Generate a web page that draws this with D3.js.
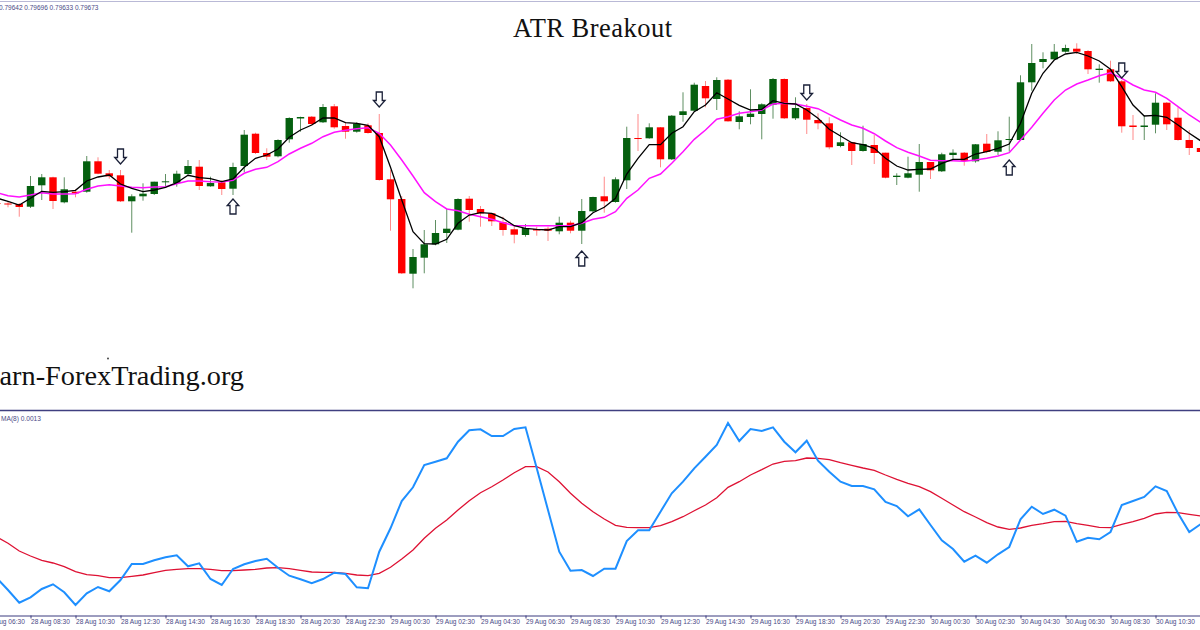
<!DOCTYPE html>
<html><head><meta charset="utf-8">
<script src="https://cdn.jsdelivr.net/npm/d3@7"></script>
<style>html,body{margin:0;padding:0;background:#fff;overflow:hidden}svg{display:block}</style>
</head><body><svg id="c" width="1200" height="630"></svg>
<script>
// Price-panel values in chart points, one entry per 30-minute bar
const opens=[207,206.5,206,203.3,224.7,232.7,207.7,218.3,218.3,248.7,236.7,234.7,208.7,213.7,216,227.7,227,236,243.3,223.7,227.7,221.3,244,276.3,257,253.7,270.7,291.5,293.3,287.7,303.7,284,278.3,284.7,277,230.7,211,136.3,152.3,165.7,177,180.3,211.3,201,196.7,187.7,180.7,175,181,181.3,178.7,187.3,179.3,198.7,213.7,208,229.7,272,271.7,282.7,250.7,295,299.3,324,311,330.3,288,293,296,305.3,331,291.7,302,290,286.7,264,267.7,259,265,257.3,233,232.3,235.3,248,238.7,255,257.3,248.7,266.3,258.3,270,270,327.7,348,350.7,358.3,361.3,359,340,340.7,328.7,284.5,283,285.3,307.3,292.3,270,262];
const highs=[209,208.3,207,234,236,233.3,232.7,220.7,254,252.7,240,240,215.7,226.7,228.3,236,239.3,250,250,233.3,230,247.3,280,277.3,261.7,270.7,292.7,293.3,294,306,306,287.7,287.7,286.7,296,240,214,161,180,190,201.7,211.7,214,204,196.7,193.3,183.3,186,183.3,183.3,193.3,189.3,211,213.3,233.3,232.7,283.3,296,286.7,283,295,317.7,327.3,329,332.7,331,298.7,320.7,306.7,332,331.7,312.7,306,296.7,292.7,277.7,268.3,284.3,275,257.3,236.7,253.3,266,248,257.3,260.7,258,266,276,278.7,293.3,334.7,366,357.7,366,365.3,366.7,360,345.7,349.3,330,295,295,316.7,308,302.7,280,270];
const lows=[204,202.7,193.3,202,210,201,206.7,212.7,217.3,235.7,231.3,208,177.3,209.3,215,223.3,223.3,235.3,220,223.3,215,215,237.7,256,250,252.7,267.3,278.3,284.7,287,281.3,271.3,277.3,276.3,229.3,179.3,136,121.7,136.7,164.7,167,179.7,188.3,183.3,184,174.3,166.7,173.3,174.3,169,175.7,176.7,166,198,197.3,207.3,221,259,271.3,242.7,250,288.3,298.3,302.7,300,288.3,280.7,285.7,270.7,291.3,291,290,276,280.7,260.7,262.7,245,258.3,246,231.7,225,231.7,218.3,231,238,250,244.3,247.3,256.7,255,258.3,269.3,319.3,341.7,350,357.3,356,336,327.3,328,277.3,270,270,276.7,280,269.3,255,245];
const closes=[206,205.5,203,224,232.7,209,220.7,216.7,248.7,236.3,233.7,208.7,213.7,216.3,228.3,228.7,236.3,244,224,227,221,243,275.3,257,253.3,270,292,293,286,303,282.7,278.3,286.3,277,230,210.7,136.7,153,165.7,177,181.3,211,200,196.7,188.7,180,175.3,182,179.5,179.3,187.3,179.3,199,213,208.7,230.7,272,271,282.7,250.7,294.3,298.7,325.3,311.7,330,288.7,293.7,296.3,305.7,331,291.7,302,290.3,286.7,262.7,267.7,259,266,257,232.3,234.3,236.7,248,239.7,255.7,257.3,249,265.7,258,269.7,271,327.7,347,351,358.3,362,358.3,340.7,341.3,328.7,283.7,283,284.5,307.3,285.7,270,262,258];
const fastMA=[212,208.7,205,211.7,218.7,217.7,218.3,219.7,229,233,235,226,221.7,218.3,220,222.7,227.3,234.7,232.3,231.3,228.3,231,242.7,251.7,255,261,272.7,280,285,292,292,287.3,286.7,284.7,273.3,242.7,210,178.3,166.3,166,170.7,186.7,195,197.3,196.7,191.7,184.3,181.7,180.7,180,183.3,183.3,187.3,197.3,202.7,211.7,236,251.7,265.3,265.3,276.7,283.3,298.3,305,317.3,311,304.7,300,300.7,309.3,306.7,306,300,291.7,280.7,274,267.3,265.3,261.7,251.7,244,240,240.7,241,246.7,250.7,250.7,256,258.3,261.7,266,286.7,316.7,336.7,350,356,357.7,354,349,340.7,323.3,305,294,294.7,292.7,285,276.7,269.3];
const slowMA=[217.5,214.3,213,215,217.3,216,216,216.3,220.7,224,225.3,224,222.7,222.3,223,223.3,226.3,229,229,228.3,228,229.7,236.7,240.7,242.7,248.3,256,261.7,266.7,273.3,277.7,279.7,281.3,282.3,276.7,265,250,234,217.3,208.3,201,199.3,195.7,193.3,190.7,187.3,184.3,184.3,184.3,184.3,184.3,184.3,186.7,190.7,192.7,198.3,211.7,220,231.7,236,246.7,258.3,270.7,280,290.7,293.3,296.7,298.3,300,306,306.7,306,303.7,301.3,295.7,290,285,281.7,276.3,269,262.3,257.7,254,249.7,249.3,249.3,248.7,250,251.7,254,257.3,270,282.7,296.7,310,320,326,330,334.3,337.3,331.7,325,320,317.7,311.7,303.3,295,287.7];
// Lower-panel indicator values
const atr=[37,25,12.3,17.7,26,30.7,22.7,10,21.7,28,23.7,35,51,51,54.7,57.7,59.7,48.7,51.7,36,30,46,50.7,54,56.3,47.3,39.3,35.7,31.7,36,42.3,41,27.7,26.7,63.3,86.7,114,127.7,150,153.3,156.7,173.3,184.7,185.7,179,179,186,187.7,146.7,105,63.3,44.3,45,39,46.3,46.3,74,84.7,84.7,103.3,121.7,133.3,146.7,158.3,170,192,174,186,184,187.7,173.3,162.7,174.3,154.3,143.3,133.3,129,129,125.7,113,109,98.7,105.7,90,74.7,66,53.3,59.3,52.3,60.7,68,95.7,108.3,101,105.3,99.3,73.3,77.3,75.7,83,110,114,118,128.7,124,101.7,83,90.7];
const atrMA=[78,71.7,64,59,54.7,52,48.3,43.3,40.3,39.3,37.3,37.3,38.7,40,42.3,44.7,45.7,46.3,46.3,45.7,44.3,44.3,45,45.7,47,47.3,46.3,44.7,43,42.7,42.7,41.7,40,39.3,41.7,47.7,56,65,76.7,86.7,95,105,114.3,122.3,128.3,135,142.3,148.3,148.3,143,133.3,121.7,111.7,103.3,96,89.7,87.7,87.3,87.3,89.3,93.3,98.3,104.3,110,117.3,127.7,133.3,140,145.3,151,153.7,154.3,157,156.7,155.3,152.3,149.7,147,144.7,140,135.7,131.7,128.3,123.3,116.7,110,103.3,98,92.3,88,85.7,87,89.7,91.3,93.3,93.7,91.3,89.7,87.7,87.3,90.7,93.3,96.7,101,102.7,102.3,100.7,99];
// Signal arrows: bar index and the value at the arrow tip
const downBars=[11,34,72,100];
const downTips=[246,303,310,332];
const upBars=[21,52,90];
const upTips=[211,159,250];
// Axis ticks: every 4th bar, and their labels
const tickBars=[-1,3,7,11,15,19,23,27,31,35,39,43,47,51,55,59,63,67,71,75,79,83,87,91,95,99,103,107];
const tickLabels=["28 Aug 06:30","28 Aug 08:30","28 Aug 10:30","28 Aug 12:30","28 Aug 14:30","28 Aug 16:30","28 Aug 18:30","28 Aug 20:30","28 Aug 22:30","29 Aug 00:30","29 Aug 02:30","29 Aug 04:30","29 Aug 06:30","29 Aug 08:30","29 Aug 10:30","29 Aug 12:30","29 Aug 14:30","29 Aug 16:30","29 Aug 18:30","29 Aug 20:30","29 Aug 22:30","30 Aug 00:30","30 Aug 02:30","30 Aug 04:30","30 Aug 06:30","30 Aug 08:30","30 Aug 10:30","30 Aug 12:30"];
const ohlcHeader="0.79642 0.79696 0.79633 0.79673";
const indicatorLabel="MA(8) 0.0013";

const svg=d3.select("#c");
const bars=d3.range(opens.length);
const x=d3.scaleLinear().domain([0,107]).range([-3.25,1200.5]);
const y=d3.scaleLinear().domain([0,410]).range([410,0]);
const y2=d3.scaleLinear().domain([0,205]).range([615,410]);
const GREEN="#05600f",RED="#ff0000",NAVY="#3b3b7e";
const bodyW=7.4;

// frame lines
svg.append("line").attr("x1",0).attr("x2",1200).attr("y1",1.5).attr("y2",1.5).attr("stroke","#b9b9d6").attr("stroke-width",1.2);
svg.append("line").attr("x1",0).attr("x2",1200).attr("y1",410.5).attr("y2",410.5).attr("stroke","#3f3f80").attr("stroke-width",1.5);

// wicks
svg.append("g").selectAll("line").data(bars).join("line")
  .attr("x1",d=>x(d)).attr("x2",d=>x(d))
  .attr("y1",d=>y(highs[d])).attr("y2",d=>y(lows[d]))
  .attr("stroke",d=>closes[d]>=opens[d]?"#5f8f62":"#ff8a8a").attr("stroke-width",1);
// bodies
svg.append("g").selectAll("rect").data(bars).join("rect")
  .attr("x",d=>x(d)-bodyW/2).attr("width",bodyW)
  .attr("y",d=>y(Math.max(opens[d],closes[d])))
  .attr("height",d=>Math.max(1,Math.abs(y(opens[d])-y(closes[d]))))
  .attr("fill",d=>closes[d]>=opens[d]?GREEN:RED);

const line=(vals,ys)=>d3.line().x((d,i)=>x(i)).y(d=>ys(d))(vals);
svg.append("path").attr("d",line(slowMA,y)).attr("fill","none").attr("stroke","#ff11ff").attr("stroke-width",1.5);
svg.append("path").attr("d",line(fastMA,y)).attr("fill","none").attr("stroke","#000").attr("stroke-width",1.3);

// arrows
function arrow(cx,tip,dir){
  const p=d3.path(),L=15*dir,H=6.5*dir;
  p.moveTo(cx,tip);p.lineTo(cx-5.8,tip+H);p.lineTo(cx-3,tip+H);p.lineTo(cx-3,tip+L);
  p.lineTo(cx+3,tip+L);p.lineTo(cx+3,tip+H);p.lineTo(cx+5.8,tip+H);p.closePath();
  return p.toString();
}
const g=svg.append("g").attr("fill","#fff").attr("stroke","#1a2038").attr("stroke-width",1.3);
g.selectAll(".d").data(downBars).join("path").attr("class","d")
  .attr("d",(d,i)=>arrow(x(d),y(downTips[i]),-1));
g.selectAll(".u").data(upBars).join("path").attr("class","u")
  .attr("d",(d,i)=>arrow(x(d),y(upTips[i]),1));

// lower panel
svg.append("path").attr("d",line(atrMA,y2)).attr("fill","none").attr("stroke","#de1133").attr("stroke-width",1.3);
svg.append("path").attr("d",line(atr,y2)).attr("fill","none").attr("stroke","#1e8fff").attr("stroke-width",2);

// time axis
const axis=d3.axisBottom(x).tickValues(tickBars).tickSize(4).tickFormat((d,i)=>tickLabels[i]);
const ax=svg.append("g").attr("transform","translate(0,615.5)").call(axis);
ax.select(".domain").attr("stroke",NAVY).attr("d","M0,0.5H1200");
ax.selectAll(".tick line").attr("stroke",NAVY).attr("y1",0).attr("y2",3);
ax.selectAll(".tick text").attr("text-anchor","start").attr("x",0).attr("y",4).attr("dy","0.71em")
  .attr("fill","#4a4a86").style("font","6.6px 'Liberation Sans'");

// texts
const serif="'Liberation Serif'";
svg.append("text").attr("x",513).attr("y",37).attr("textLength",159).style("font",`26.5px ${serif}`).attr("fill","#111").text("ATR Breakout");
svg.append("text").attr("x",244).attr("y",384.5).attr("text-anchor","end").style("font",`28.3px ${serif}`).attr("fill","#111").text("Learn-ForexTrading.org");
svg.append("circle").attr("cx",108).attr("cy",358.5).attr("r",0.9).attr("fill","#333");
svg.append("text").attr("x",-1).attr("y",10).style("font","6.5px 'Liberation Sans'").attr("fill","#4a4a86").text(ohlcHeader);
svg.append("text").attr("x",1).attr("y",421).style("font","6.6px 'Liberation Sans'").attr("fill","#4a4a86").text(indicatorLabel);
</script></body></html>
